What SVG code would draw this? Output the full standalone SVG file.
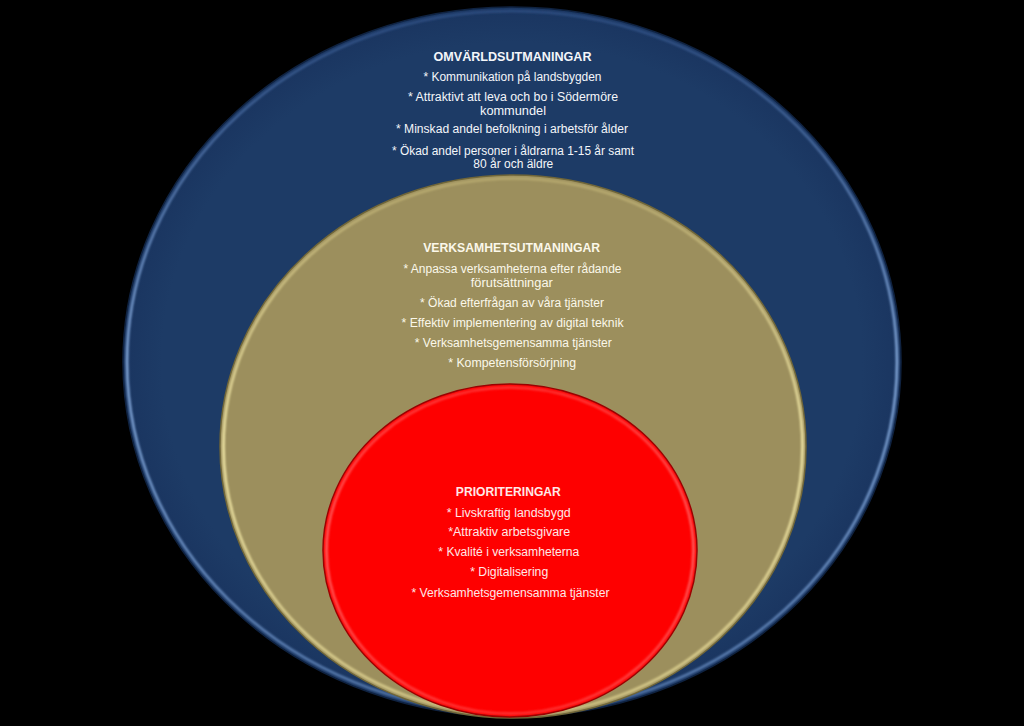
<svg xmlns="http://www.w3.org/2000/svg" width="1024" height="726" viewBox="0 0 1024 726">
<defs>
<style>
text{font-family:"Liberation Sans",Arial,sans-serif;text-anchor:middle;}
.h{font-weight:bold;font-size:13px;}
.t{font-size:12.5px;}
.wb{fill:#f4f6fa;}
.wt{fill:#fbf8ea;}
.wr{fill:#ffe8e8;}
</style>
<filter id="soft" x="-5%" y="-5%" width="110%" height="110%"><feGaussianBlur stdDeviation="1.2"/></filter>
<radialGradient id="gBlue" cx="0.5" cy="0.5" r="0.5">
<stop offset="0.9" stop-color="#1d3b66"/>
<stop offset="1" stop-color="#1a3560"/>
</radialGradient>
<linearGradient id="rimBlue" x1="0" y1="0" x2="0" y2="1">
<stop offset="0" stop-color="#3f64a0" stop-opacity="0.5"/>
<stop offset="0.5" stop-color="#8fb4e6" stop-opacity="0.95"/>
<stop offset="1" stop-color="#6e95cc" stop-opacity="0.7"/>
</linearGradient>
<linearGradient id="rimTan" x1="0" y1="0" x2="0" y2="1">
<stop offset="0" stop-color="#c7b97a" stop-opacity="0.6"/>
<stop offset="0.5" stop-color="#f3e9a8" stop-opacity="1"/>
<stop offset="1" stop-color="#e2d592" stop-opacity="0.8"/>
</linearGradient>
<linearGradient id="rimRed" x1="0" y1="0" x2="0" y2="1">
<stop offset="0" stop-color="#ff6a6a" stop-opacity="0.5"/>
<stop offset="0.5" stop-color="#ff7a7a" stop-opacity="0.8"/>
<stop offset="1" stop-color="#ff5a5a" stop-opacity="0.6"/>
</linearGradient>
</defs>
<rect x="0" y="0" width="1024" height="726" fill="#000000"/>

<g id="omvarld">
<ellipse cx="512" cy="362" rx="389" ry="355" fill="url(#gBlue)" stroke="#0f2240" stroke-width="1.5"/>
<ellipse cx="512" cy="362" rx="385" ry="351" fill="none" stroke="url(#rimBlue)" stroke-width="2.5" filter="url(#soft)"/>
<text class="h wb" x="512.5" y="60.5" textLength="158" lengthAdjust="spacingAndGlyphs">OMVÄRLDSUTMANINGAR</text>
<text class="t wb" x="512.5" y="80.7" textLength="178" lengthAdjust="spacingAndGlyphs">* Kommunikation på landsbygden</text>
<text class="t wb" x="513" y="101" textLength="210" lengthAdjust="spacingAndGlyphs">* Attraktivt att leva och bo i Södermöre</text>
<text class="t wb" x="513" y="115" textLength="66" lengthAdjust="spacingAndGlyphs">kommundel</text>
<text class="t wb" x="512" y="133.3" textLength="232" lengthAdjust="spacingAndGlyphs">* Minskad andel befolkning i arbetsför ålder</text>
<text class="t wb" x="513" y="155" textLength="242" lengthAdjust="spacingAndGlyphs">* Ökad andel personer i åldrarna 1-15 år samt</text>
<text class="t wb" x="513.3" y="168.3" textLength="80" lengthAdjust="spacingAndGlyphs">80 år och äldre</text>
</g>

<g id="verksamhet">
<ellipse cx="513" cy="446.5" rx="293" ry="271.5" fill="#9c8f5d" stroke="#6f6538" stroke-width="1.5"/>
<ellipse cx="513" cy="446.5" rx="289.5" ry="268" fill="none" stroke="url(#rimTan)" stroke-width="2.5" filter="url(#soft)"/>
<text class="h wt" x="511.7" y="252.3" textLength="177" lengthAdjust="spacingAndGlyphs">VERKSAMHETSUTMANINGAR</text>
<text class="t wt" x="512.5" y="273.3" textLength="218" lengthAdjust="spacingAndGlyphs">* Anpassa verksamheterna efter rådande</text>
<text class="t wt" x="511.8" y="286.7" textLength="82" lengthAdjust="spacingAndGlyphs">förutsättningar</text>
<text class="t wt" x="512" y="306.7" textLength="184" lengthAdjust="spacingAndGlyphs">* Ökad efterfrågan av våra tjänster</text>
<text class="t wt" x="512.5" y="326.7" textLength="222" lengthAdjust="spacingAndGlyphs">* Effektiv implementering  av digital teknik</text>
<text class="t wt" x="513.3" y="346.7" textLength="197" lengthAdjust="spacingAndGlyphs">* Verksamhetsgemensamma tjänster</text>
<text class="t wt" x="512.2" y="366.7" textLength="128" lengthAdjust="spacingAndGlyphs">* Kompetensförsörjning</text>
</g>

<g id="prioriteringar">
<ellipse cx="510" cy="550.5" rx="187" ry="166.5" fill="#fe0000" stroke="#9a0000" stroke-width="1.5"/>
<ellipse cx="510" cy="550.5" rx="183.5" ry="163" fill="none" stroke="url(#rimRed)" stroke-width="2.5" filter="url(#soft)"/>
<text class="h wr" x="508.3" y="495.7" textLength="105" lengthAdjust="spacingAndGlyphs">PRIORITERINGAR</text>
<text class="t wr" x="508.7" y="516.7" textLength="124" lengthAdjust="spacingAndGlyphs">* Livskraftig  landsbygd</text>
<text class="t wr" x="509.2" y="536" textLength="122" lengthAdjust="spacingAndGlyphs">*Attraktiv arbetsgivare</text>
<text class="t wr" x="508.8" y="556" textLength="141" lengthAdjust="spacingAndGlyphs">* Kvalité i verksamheterna</text>
<text class="t wr" x="509.2" y="576" textLength="78" lengthAdjust="spacingAndGlyphs">* Digitalisering</text>
<text class="t wr" x="510.5" y="596.7" textLength="198" lengthAdjust="spacingAndGlyphs">* Verksamhetsgemensamma tjänster</text>
</g>

<g id="connectors"/>
</svg>
